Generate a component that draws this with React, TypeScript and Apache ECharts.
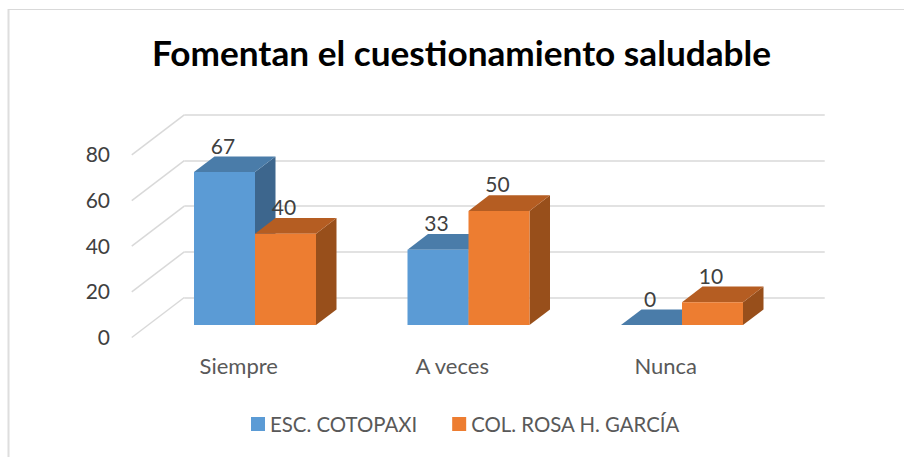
import React, { useEffect, useRef } from "react";
import * as echarts from "echarts";

const categories = ["Siempre", "A veces", "Nunca"];
const seriesNames = ["ESC. COTOPAXI", "COL. ROSA H. GARCÍA"];
const escValues = [67, 33, 0];
const colValues = [40, 50, 10];
const ticks = [0, 20, 40, 60, 80];
const titleText = "Fomentan el cuestionamiento saludable";

const FONT = "Lato";
const BAR_W = 61;
const DEPTH_X = 20.5;
const DEPTH_Y = 15.6;
const colors = [
  { front: "#5B9BD5", top: "#4A7CA9", side: "#3D668D" },
  { front: "#ED7D31", top: "#B55D22", side: "#984F1B" },
];

const barRenderer = (seriesIdx: number) => (params: any, api: any) => {
  const cat = api.value(0);
  const val = api.value(1);
  const [cx, yTop] = api.coord([cat, val]);
  const [, yBase] = api.coord([cat, 0]);
  const x0 = seriesIdx === 0 ? cx - BAR_W : cx;
  const x1 = x0 + BAR_W;
  const c = colors[seriesIdx];
  const children: any[] = [
    {
      type: "polygon",
      shape: { points: [[x1, yBase], [x1 + DEPTH_X, yBase - DEPTH_Y], [x1 + DEPTH_X, yTop - DEPTH_Y], [x1, yTop]] },
      style: { fill: val > 0 ? c.side : "none" },
    },
    {
      type: "polygon",
      shape: { points: [[x0, yTop], [x0 + DEPTH_X, yTop - DEPTH_Y], [x1 + DEPTH_X, yTop - DEPTH_Y], [x1, yTop]] },
      style: { fill: c.top },
    },
    {
      type: "rect",
      shape: { x: x0, y: yTop, width: BAR_W, height: yBase - yTop },
      style: { fill: c.front },
    },
    {
      type: "text",
      z2: 50,
      style: {
        text: String(val),
        x: (x0 + x1) / 2 - 1.5,
        y: yTop - 27,
        align: "center",
        verticalAlign: "middle",
        fill: "#404040",
        font: `21px ${FONT}`,
      },
    },
  ];
  return { type: "group", children };
};

const diagonalRenderer = (params: any, api: any) => {
  const v = api.value(0);
  const [, y] = api.coord([0, v]);
  const x = params.coordSys.x;
  return {
    type: "line",
    shape: { x1: x, y1: y, x2: x - 52.5, y2: y + 40 },
    style: { stroke: "#D9D9D9", lineWidth: 1.5, fill: "none" },
  };
};

const W = 640.5;
const H = 182.6;
const yAxisBase = { type: "value", min: 0, max: 80, interval: 20 };

export default function App() {
  const ref = useRef<HTMLDivElement>(null);
  useEffect(() => {
    const chart = echarts.init(ref.current!, null, { renderer: "svg" });
    chart.setOption({
      animation: false,
      backgroundColor: "#ffffff",
      title: {
        text: titleText,
        left: 456.5,
        top: 29,
        textAlign: "center",
        textStyle: { fontFamily: FONT, fontWeight: "bold", fontSize: 35.2, color: "#000000" },
      },
      legend: {
        left: 246,
        top: 409,
        itemWidth: 14,
        itemHeight: 14,
        itemGap: 35,
        icon: "rect",
        data: seriesNames,
        selectedMode: false,
        textStyle: { fontFamily: FONT, fontSize: 20.4, color: "#595959", padding: [0, 0, 0, 0] },
      },
      grid: [
        { left: 148.25, top: 142.4, width: W, height: H },
        { left: 132, top: 153.7, width: W, height: H },
        { left: 184.25, top: 114.9, width: W, height: H },
      ],
      xAxis: [0, 1, 2].map((i) => ({
        type: "category",
        gridIndex: i,
        data: categories,
        axisLine: { show: false },
        axisTick: { show: false },
        splitLine: { show: false },
        axisLabel: i === 1
          ? { show: true, margin: 18, fontFamily: FONT, fontSize: 22, color: "#595959" }
          : { show: false },
      })),
      yAxis: [0, 1, 2].map((i) => ({
        ...yAxisBase,
        gridIndex: i,
        axisLine: { show: false },
        axisTick: { show: false },
        splitLine: i === 2
          ? { show: true, lineStyle: { color: "#D9D9D9", width: 1.5 } }
          : { show: false },
        axisLabel: i === 1
          ? { show: true, margin: 22, fontFamily: FONT, fontSize: 21, color: "#404040" }
          : { show: false },
      })),
      series: [
        {
          type: "custom",
          name: "walls",
          xAxisIndex: 2,
          yAxisIndex: 2,
          z: 1,
          silent: true,
          data: ticks.map((t) => [t]),
          encode: { y: 0 },
          renderItem: diagonalRenderer,
        },
        {
          type: "custom",
          name: seriesNames[0],
          xAxisIndex: 0,
          yAxisIndex: 0,
          z: 2,
          itemStyle: { color: colors[0].front },
          data: escValues.map((v, i) => [i, v]),
          encode: { x: 0, y: 1 },
          renderItem: barRenderer(0),
        },
        {
          type: "custom",
          name: seriesNames[1],
          xAxisIndex: 0,
          yAxisIndex: 0,
          z: 3,
          itemStyle: { color: colors[1].front },
          data: colValues.map((v, i) => [i, v]),
          encode: { x: 0, y: 1 },
          renderItem: barRenderer(1),
        },
      ],
      graphic: [
        {
          type: "line",
          silent: true,
          shape: { x1: 8.5, y1: 9, x2: 8.5, y2: 457 },
          style: { stroke: "#DEDEDE", lineWidth: 2 },
        },
        {
          type: "line",
          silent: true,
          shape: { x1: 8, y1: 9.5, x2: 904, y2: 9.5 },
          style: { stroke: "#D9D9D9", lineWidth: 1.2 },
        },
      ],
    });
    return () => chart.dispose();
  }, []);
  return <div ref={ref} style={{ position: "fixed", left: 0, top: 0, width: 904, height: 457 }} />;
}
